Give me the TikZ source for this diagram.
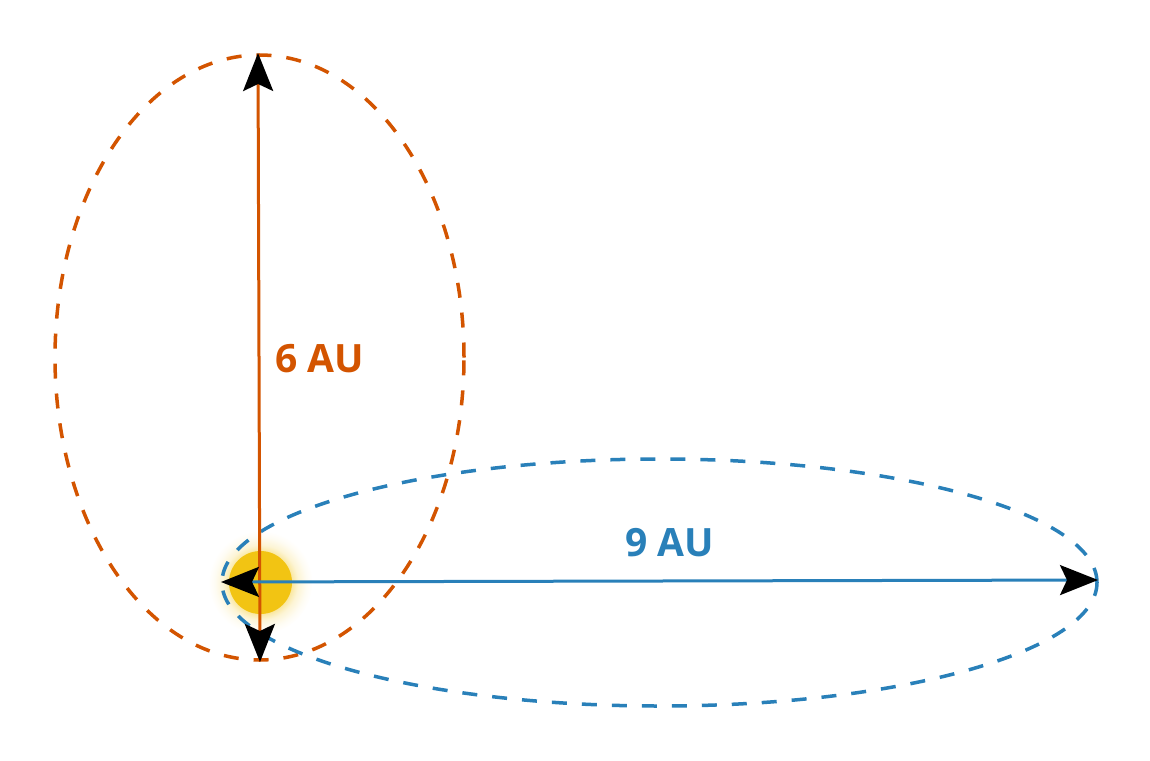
\documentclass[tikz,border=0pt]{standalone}
\usepackage{fontspec}
\setmainfont{Open Sans}
\usetikzlibrary{arrows.meta}
\definecolor{orbitorange}{HTML}{D35400}
\definecolor{orbitblue}{HTML}{2980B9}
\definecolor{sunyellow}{HTML}{F2C413}
\pgfdeclareradialshading{sunglow}{\pgfpoint{0bp}{0bp}}{color(0bp)=(sunyellow); color(15bp)=(sunyellow!40!white); color(18bp)=(sunyellow!18!white); color(22bp)=(sunyellow!5!white); color(25bp)=(white); color(50bp)=(white)}
\tikzset{
  orbit/.style={line width=3.5pt, dash pattern=on 15pt off 15pt},
  axis/.style={line width=3pt, {Stealth[black,length=38pt,width=30pt,inset=7pt]}-{Stealth[black,length=38pt,width=30pt,inset=7pt]}},
  lbl/.style={font=\fontsize{39}{39}\selectfont\bfseries, inner sep=0pt}
}
\begin{document}
\begin{tikzpicture}[x=1pt,y=-1pt]
\useasboundingbox (0,0) rectangle (1150,760);
% sun glow and sun
\shade[shading=sunglow] (260.5,582.5) circle (52pt);
\fill[sunyellow] (260.5,582.5) circle (31.5pt);
% orbits
\draw[orbit, orbitorange] (259.5,357.5) ellipse [x radius=204.5pt, y radius=302.5pt];
\draw[orbit, orbitblue] (659.5,582.5) ellipse [x radius=437.5pt, y radius=123.5pt];
% axes
\coordinate (otop) at (258,53);
\coordinate (obot) at (260,662);
\coordinate (bleft) at (221,582);
\coordinate (bright) at (1098,580);
\draw[axis, orbitorange] (obot) -- (otop);
\draw[axis, orbitblue] (bleft) -- (bright);
% labels
\node[lbl, text=orbitorange] (six) at (319.5,359) {6 AU};
\node[lbl, text=orbitblue] (nine) at (670,542.5) {9 AU};
\end{tikzpicture}
\end{document}
